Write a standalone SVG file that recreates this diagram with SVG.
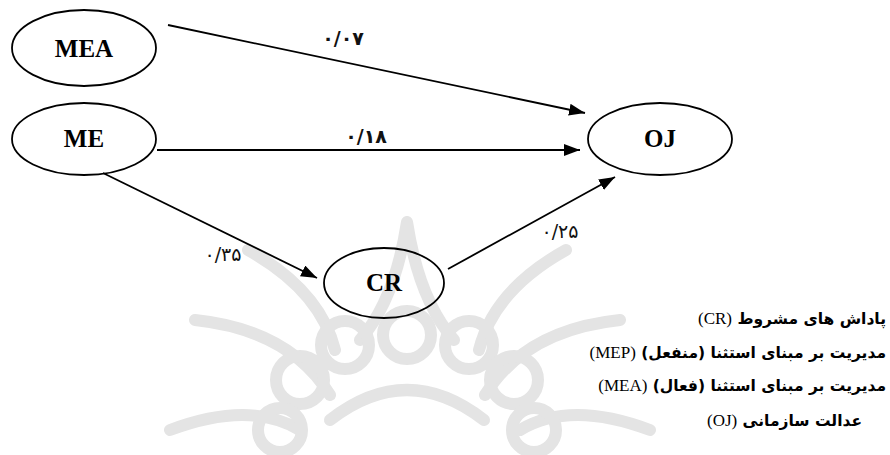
<svg xmlns="http://www.w3.org/2000/svg" width="890" height="455" viewBox="0 0 890 455">
<style>
.node ellipse{fill:none;stroke:#000;stroke-width:1.8}
.node text{font-family:"Liberation Serif","Times New Roman",serif;font-weight:bold;font-size:25px;text-anchor:middle;fill:#000}
.edge{stroke:#000;stroke-width:1.8;fill:none;marker-end:url(#arr)}
.elab{font-family:"DejaVu Sans",sans-serif;font-weight:bold;font-size:19px;letter-spacing:1.5px;text-anchor:middle;fill:#111}
.elab2{font-weight:normal}
.leg{font-family:"DejaVu Sans",sans-serif;font-weight:bold;font-size:15.5px;fill:#000}
.lat{font-family:"Liberation Serif","Times New Roman",serif;font-weight:normal;font-size:17px}
.wm{fill:none;stroke:#e4e4e4;stroke-width:12;stroke-linecap:round}
</style>
<defs>
<marker id="arr" markerUnits="userSpaceOnUse" markerWidth="18" markerHeight="14" refX="16" refY="6" orient="auto">
<path d="M0,0 L16,6 L0,12 z" fill="#000"/>
</marker>
</defs>
<rect width="890" height="455" fill="#fff"/>
<g id="watermark" class="wm">
<path d="M407,222 Q395,300 360,340 M407,222 Q419,300 454,340"/>
<path d="M195,320 Q290,330 330,395 M620,320 Q525,330 485,395"/>
<path d="M248,250 Q320,290 335,350 M566,250 Q494,290 479,350"/>
<path d="M170,430 Q250,400 300,430 M650,430 Q570,400 520,430"/>
<circle cx="300" cy="380" r="24"/>
<circle cx="345" cy="345" r="24"/>
<circle cx="407" cy="335" r="24"/>
<circle cx="469" cy="345" r="24"/>
<circle cx="514" cy="380" r="24"/>
<circle cx="280" cy="430" r="22"/>
<circle cx="534" cy="430" r="22"/>
<path d="M330,420 Q407,360 484,420"/>
</g>
<g id="connectors">
<line class="edge" x1="168" y1="25" x2="585" y2="113"/>
<line class="edge" x1="157" y1="150" x2="580" y2="150"/>
<line class="edge" x1="103" y1="173" x2="317" y2="278"/>
<line class="edge" x1="448" y1="269" x2="615" y2="177"/>
<text class="elab" x="343" y="45">۰/۰۷</text>
<text class="elab" x="366" y="143">۰/۱۸</text>
<text class="elab elab2" x="223" y="261">۰/۳۵</text>
<text class="elab elab2" x="560" y="238">۰/۲۵</text>
</g>
<g id="MEA" class="node"><ellipse cx="84" cy="48" rx="72" ry="38"/><text x="84" y="57">MEA</text></g>
<g id="ME" class="node"><ellipse cx="84" cy="139" rx="72" ry="36"/><text x="84" y="147">ME</text></g>
<g id="OJ" class="node"><ellipse cx="660" cy="139" rx="72" ry="36"/><text x="660" y="147">OJ</text></g>
<g id="CR" class="node"><ellipse cx="384" cy="283" rx="60" ry="35"/><text x="384" y="291">CR</text></g>
<g id="legend" class="leg" direction="rtl">
<text x="886" y="324" direction="rtl" text-anchor="start">پاداش های مشروط <tspan class="lat">(CR)</tspan></text>
<text x="886" y="358" direction="rtl" text-anchor="start">مدیریت بر مبنای استثنا (منفعل) <tspan class="lat">(MEP)</tspan></text>
<text x="886" y="391" direction="rtl" text-anchor="start">مدیریت بر مبنای استثنا (فعال) <tspan class="lat">(MEA)</tspan></text>
<text x="862" y="426" direction="rtl" text-anchor="start">عدالت سازمانی <tspan class="lat">(OJ)</tspan></text>
</g>
</svg>
